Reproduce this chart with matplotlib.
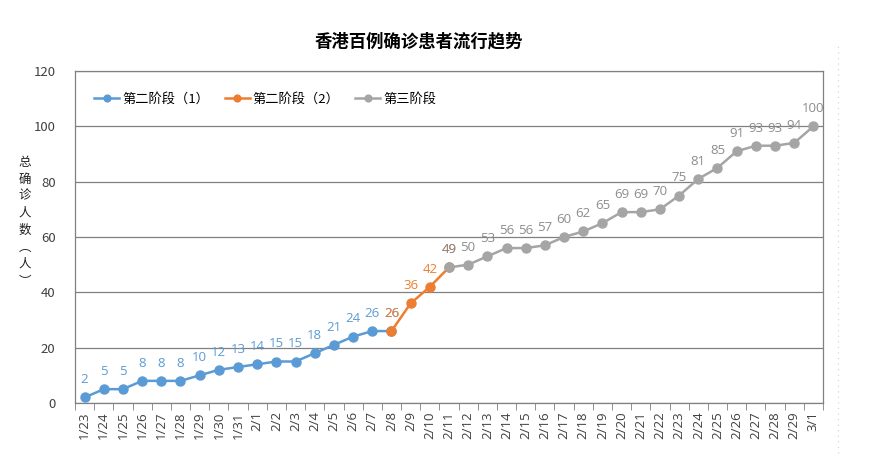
import matplotlib
matplotlib.use("Agg")
import matplotlib.pyplot as plt
from matplotlib.lines import Line2D

plt.rcParams['font.family'] = ['Noto Sans CJK SC', 'DejaVu Sans']

dates = ['1/23', '1/24', '1/25', '1/26', '1/27', '1/28', '1/29', '1/30', '1/31',
         '2/1', '2/2', '2/3', '2/4', '2/5', '2/6', '2/7', '2/8', '2/9', '2/10',
         '2/11', '2/12', '2/13', '2/14', '2/15', '2/16', '2/17', '2/18', '2/19',
         '2/20', '2/21', '2/22', '2/23', '2/24', '2/25', '2/26', '2/27', '2/28',
         '2/29', '3/1']

# stage 2 part 1: 1/23 - 2/8
s1 = [2, 5, 5, 8, 8, 8, 10, 12, 13, 14, 15, 15, 18, 21, 24, 26, 26]
# stage 2 part 2: 2/8 - 2/11
s2 = [26, 36, 42, 49]
# stage 3: 2/11 - 3/1
s3 = [49, 50, 53, 56, 56, 57, 60, 62, 65, 69, 69, 70, 75, 81, 85, 91, 93, 93, 94, 100]

names = ['第二阶段（1）', '第二阶段（2）', '第三阶段']
colors = ['#5B9BD5', '#ED7D31', '#A5A5A5']
label_colors = ['#5B9BD5', '#ED7D31', '#8C8C8C']

fig = plt.figure(figsize=(8.96, 4.62), dpi=100)
ax = fig.add_axes([0.0837, 0.1277, 0.8348, 0.7186])

starts = [0, dates.index('2/8'), dates.index('2/11')]
for vals, st, name, c, lc in zip([s1, s2, s3], starts, names, colors, label_colors):
    xs = list(range(st, st + len(vals)))
    ax.plot(xs, vals, color=c, lw=1.8, marker='o', ms=6.5, label=name, zorder=3)
    for x, v in zip(xs, vals):
        ax.annotate(str(v), (x, v), xytext=(0, 8), textcoords='offset points',
                    ha='center', va='bottom', fontsize=9.5, color=lc,
                    family=['Open Sans', 'DejaVu Sans'])

ax.set_xlim(-0.5, len(dates) - 0.5)
ax.set_ylim(0, 120)
ax.set_yticks(range(0, 121, 20))
ax.yaxis.grid(True, color='#808080', lw=0.9)
ax.set_axisbelow(True)
ax.tick_params(axis='y', length=0, pad=14, labelsize=9.5, labelcolor='#404040')

ax.set_xticks(range(len(dates)))
ax.set_xticklabels(dates, rotation=90, fontsize=9.5, color='#404040',
                   family=['Open Sans', 'DejaVu Sans'])
ax.set_xticks([i - 0.5 for i in range(len(dates) + 1)], minor=True)
ax.tick_params(axis='x', which='major', length=0, pad=6)
ax.tick_params(axis='x', which='minor', length=5, color='#808080')

for sp in ax.spines.values():
    sp.set_color('#808080')
    sp.set_linewidth(0.9)

ax.legend(loc='upper left', ncol=3, frameon=False, fontsize=9.5,
          bbox_to_anchor=(0.01, 0.97), handlelength=1.9, columnspacing=1.2,
          handletextpad=0.2, markerscale=0.75)

fig.text(0.467, 0.91, '香港百例确诊患者流行趋势', ha='center', va='center',
         fontsize=12.5, fontweight='bold')

fig.text(0.028, 0.52, '总\n确\n诊\n人\n数\n︵\n人\n︶', ha='center', va='center',
         fontsize=9, linespacing=1.4, color='#202020')

fig.add_artist(Line2D([0.935, 0.935], [0.02, 0.9], transform=fig.transFigure,
                      color='#d0d0d0', lw=0.8, ls=(0, (1, 4))))

fig.savefig('out.png', dpi=100)
